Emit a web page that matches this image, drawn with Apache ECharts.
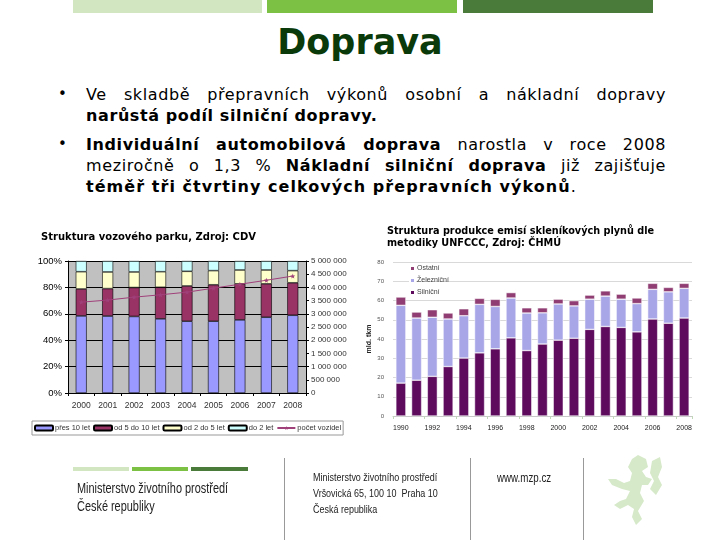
<!DOCTYPE html>
<html><head><meta charset="utf-8">
<script src="https://cdn.jsdelivr.net/npm/echarts@6/dist/echarts.min.js"></script>
<style>
html,body{margin:0;padding:0;background:#fff;}
#wrap{position:relative;width:720px;height:540px;overflow:hidden;font-family:"DejaVu Sans",Verdana,sans-serif;}
#chart{position:absolute;left:0;top:0;width:720px;height:540px;}
.abs{position:absolute;}
.ln{position:absolute;left:86px;width:580px;font-size:16px;line-height:21px;text-align:justify;text-align-last:justify;color:#000;letter-spacing:0.6px;}
.last{text-align-last:left;}
.bul{position:absolute;left:58px;font-size:15px;line-height:21px;}
.ft{position:absolute;font-family:"Liberation Sans","DejaVu Sans",sans-serif;color:#222;transform:scaleX(0.78);transform-origin:0 0;white-space:nowrap;}
</style></head>
<body><div id="wrap">
<div class="abs" style="left:73px;top:0;width:189px;height:13px;background:#d2e7c1"></div>
<div class="abs" style="left:267px;top:0;width:190px;height:13px;background:#7cc143"></div>
<div class="abs" style="left:463px;top:0;width:190px;height:13px;background:#4b7b3b"></div>
<div class="abs" style="left:0;top:22px;width:720px;text-align:center;font-size:35px;line-height:40px;font-weight:bold;color:#0a3a0a;">Doprava</div>

<div class="bul" style="top:84px">•</div>
<div class="ln" style="top:84px">Ve skladbě přepravních výkonů osobní a nákladní dopravy</div>
<div class="ln last" style="top:105px"><b>narůstá podíl silniční dopravy.</b></div>
<div class="bul" style="top:134px">•</div>
<div class="ln" style="top:134px"><b>Individuální automobilová doprava</b> narostla v roce 2008</div>
<div class="ln" style="top:155px">meziročně o 1,3 % <b>Nákladní silniční doprava</b> již zajišťuje</div>
<div class="ln last" style="top:176px;letter-spacing:1.05px"><b>téměř tři čtvrtiny celkových přepravních výkonů</b>.</div>

<div id="chart"></div>

<div class="abs" style="left:73px;top:467px;width:56px;height:4px;background:#d2e7c1"></div>
<div class="abs" style="left:132px;top:467px;width:56px;height:4px;background:#7cc143"></div>
<div class="abs" style="left:191px;top:467px;width:57px;height:4px;background:#4b7b3b"></div>
<div class="ft" style="left:77px;top:479px;font-size:14px;line-height:18px;">Ministerstvo životního prostředí<br>České republiky</div>
<div class="abs" style="left:284px;top:458px;width:1px;height:82px;background:#999"></div>
<div class="abs" style="left:470px;top:458px;width:1px;height:82px;background:#999"></div>
<div class="abs" style="left:583px;top:458px;width:1px;height:82px;background:#999"></div>
<div class="ft" style="left:313px;top:469px;font-size:11.5px;line-height:16px;">Ministerstvo životního prostředí<br>Vršovická 65, 100 10&nbsp; Praha 10<br>Česká republika</div>
<div class="ft" style="left:497px;top:470px;font-size:12.5px;line-height:16px;">www.mzp.cz</div>
<svg class="abs" style="left:608px;top:455px" width="56" height="72" viewBox="0 0 56 72">
<path fill="#d6e9c9" d="M30,0 L38,4 40,12 34,16 38,22 44,24 40,30 34,30 32,38 36,46 30,56 34,64 28,70 24,62 26,54 20,50 12,54 6,50 12,46 18,44 22,36 14,34 4,30 0,24 8,24 16,28 22,26 24,18 20,12 24,4 Z M44,6 L52,2 54,12 50,22 54,30 48,40 42,34 46,26 42,18 Z"/>
</svg>
</div>
<script>
// ---- Left chart: Struktura vozového parku ----
const years1 = ['2000','2001','2002','2003','2004','2005','2006','2007','2008'];
const pres10 = [58.4, 58.3, 58.0, 56.2, 54.4, 54.4, 55.4, 57.4, 58.9];
const od5do10 = [20.4, 20.8, 21.9, 23.9, 26.7, 27.6, 27.3, 25.3, 24.6];
const od2do5 = [13.1, 12.6, 11.8, 11.8, 11.1, 10.7, 10.5, 10.5, 9.2];
const do2 = [8.1, 8.3, 8.3, 8.1, 7.8, 7.3, 6.8, 6.8, 7.3];
const pocetVozidel = [3440000, 3520000, 3630000, 3720000, 3820000, 3970000, 4120000, 4270000, 4430000];

// ---- Right chart: emise / přepravní výkony ----
const years2 = ['1990','1991','1992','1993','1994','1995','1996','1997','1998','1999','2000','2001','2002','2003','2004','2005','2006','2007','2008'];
const silnicni = [17.1, 18.6, 20.6, 25.7, 30.1, 32.8, 34.9, 40.6, 34.0, 37.4, 39.4, 40.4, 45.0, 46.5, 46.0, 43.7, 50.4, 48.2, 50.9];
const zeleznicni = [40.4, 32.3, 30.7, 24.7, 22.0, 25.2, 22.0, 20.7, 19.5, 16.2, 18.8, 16.8, 15.7, 15.8, 14.7, 14.7, 15.4, 16.3, 15.4];
const ostatni = [4.3, 3.1, 3.9, 3.1, 3.6, 3.1, 3.7, 2.8, 2.7, 2.6, 2.5, 2.7, 2.1, 2.7, 2.6, 2.9, 3.1, 2.3, 2.6];

function fmtSpace(v){ return String(v).replace(/\B(?=(\d{3})+(?!\d))/g, ' '); }

const starPath = 'path://M0,-10 L2.4,-3.3 9.5,-3.1 3.9,1.3 5.9,8.1 0,4.1 -5.9,8.1 -3.9,1.3 -9.5,-3.1 -2.4,-3.3 Z';

const chart = echarts.init(document.getElementById('chart'), null, {renderer:'canvas'});
const lab = {fontFamily:'Liberation Sans, Arial, sans-serif'};
chart.setOption({
  animation:false,
  title:[
    {text:'Struktura vozového parku, Zdroj: CDV', left:36, top:227, textStyle:{fontSize:10, fontWeight:'bold', color:'#000', fontFamily:'DejaVu Sans'}},
    {text:'Struktura produkce emisí skleníkových plynů dle\nmetodiky UNFCCC, Zdroj: ČHMÚ', left:382, top:220, textStyle:{fontSize:9.7, fontWeight:'bold', color:'#000', lineHeight:12, fontFamily:'DejaVu Sans'}}
  ],
  grid:[
    {left:68, top:261, width:238, height:132, show:true, backgroundColor:'#c0c0c0', borderWidth:0},
    {left:393, top:262, width:299, height:154}
  ],
  legend:[
    {data:['přes 10 let','od 5 do 10 let','od 2 do 5 let','do 2 let','počet vozidel'], left:32, top:421, orient:'horizontal',
     itemWidth:18, itemHeight:5, itemGap:3, padding:[3,2], borderColor:'#999', borderWidth:1,
     textStyle:Object.assign({fontSize:7.5, color:'#333', padding:[0,0,0,-3]}, lab)},
    {data:['Ostatní','Železniční','Silniční'], left:409, top:265, orient:'vertical', icon:'rect',
     itemWidth:5, itemHeight:5, itemGap:5, padding:0,
     textStyle:Object.assign({fontSize:7, color:'#444', padding:[0,0,0,-3]}, lab)}
  ],
  xAxis:[
    {gridIndex:0, type:'category', data:years1,
     axisLine:{lineStyle:{color:'#000', width:1}}, axisTick:{show:true, length:3, lineStyle:{color:'#000'}},
     axisLabel:Object.assign({fontSize:8.5, color:'#333', margin:8}, lab)},
    {gridIndex:1, type:'category', data:years2,
     axisLine:{lineStyle:{color:'#c8c8c8'}}, axisTick:{show:true, length:3, lineStyle:{color:'#c0d8b8'}},
     axisLabel:Object.assign({interval:1, fontSize:7, color:'#222', margin:9}, lab)}
  ],
  yAxis:[
    {gridIndex:0, type:'value', min:0, max:100, interval:20,
     axisLabel:Object.assign({formatter:'{value}%', fontSize:9.5, color:'#000', margin:6}, lab),
     axisLine:{show:true, lineStyle:{color:'#000'}}, axisTick:{show:true, length:3, lineStyle:{color:'#000'}},
     splitLine:{lineStyle:{color:'#000', width:1}}},
    {gridIndex:0, type:'value', position:'right', min:0, max:5000000, interval:500000,
     axisLabel:Object.assign({formatter:fmtSpace, fontSize:8, color:'#333', margin:5}, lab),
     axisLine:{show:true, lineStyle:{color:'#000'}}, axisTick:{show:true, length:3, lineStyle:{color:'#000'}},
     splitLine:{show:false}},
    {gridIndex:1, type:'value', min:0, max:80, interval:10, name:'mld. tkm', nameLocation:'middle', nameGap:20,
     nameTextStyle:Object.assign({fontSize:7, fontWeight:'bold', color:'#222'}, lab),
     axisLabel:Object.assign({fontSize:6, color:'#555', margin:9}, lab),
     axisLine:{show:false}, axisTick:{show:false}, splitLine:{lineStyle:{color:'#d9d9d9'}}}
  ],
  series:[
    {name:'přes 10 let', type:'bar', xAxisIndex:0, yAxisIndex:0, stack:'a', barWidth:11, data:pres10,
     itemStyle:{color:'#9999ff', borderColor:'#000', borderWidth:0.6}},
    {name:'od 5 do 10 let', type:'bar', xAxisIndex:0, yAxisIndex:0, stack:'a', barWidth:11, data:od5do10,
     itemStyle:{color:'#993366', borderColor:'#000', borderWidth:0.6}},
    {name:'od 2 do 5 let', type:'bar', xAxisIndex:0, yAxisIndex:0, stack:'a', barWidth:11, data:od2do5,
     itemStyle:{color:'#ffffcc', borderColor:'#000', borderWidth:0.6}},
    {name:'do 2 let', type:'bar', xAxisIndex:0, yAxisIndex:0, stack:'a', barWidth:11, data:do2,
     itemStyle:{color:'#ccffff', borderColor:'#000', borderWidth:0.6}},
    {name:'počet vozidel', type:'line', xAxisIndex:0, yAxisIndex:1, data:pocetVozidel,
     symbol:starPath, symbolSize:5, showSymbol:true,
     lineStyle:{color:'#a0407a', width:1}, itemStyle:{color:'#a0407a'}},
    {name:'Silniční', type:'bar', xAxisIndex:1, yAxisIndex:2, stack:'b', barWidth:10, data:silnicni,
     itemStyle:{color:'#5e0b5e', borderColor:'#fff', borderWidth:0.5}},
    {name:'Železniční', type:'bar', xAxisIndex:1, yAxisIndex:2, stack:'b', barWidth:10, data:zeleznicni,
     itemStyle:{color:'#a9a6e8', borderColor:'#fff', borderWidth:0.5}},
    {name:'Ostatní', type:'bar', xAxisIndex:1, yAxisIndex:2, stack:'b', barWidth:10, data:ostatni,
     itemStyle:{color:'#8f3d72', borderColor:'#fff', borderWidth:0.5}}
  ]
});
</script>
</body></html>
